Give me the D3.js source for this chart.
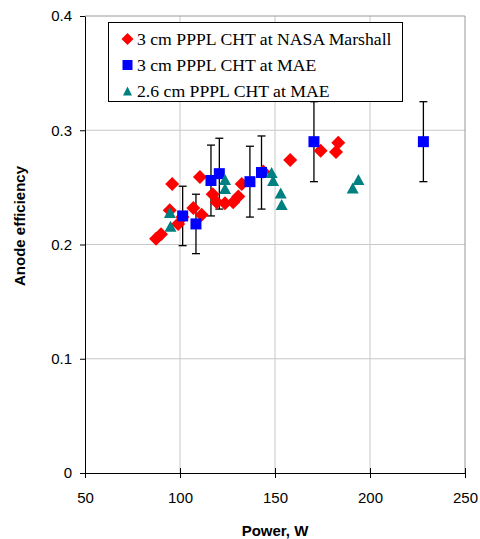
<!DOCTYPE html>
<html>
<head>
<meta charset="utf-8">
<script src="https://cdn.jsdelivr.net/npm/d3@7"></script>
<style>
  body { margin: 0; background: #fff; }
  svg { display: block; }
</style>
</head>
<body>
<div id="container"></div>
<script>
// series: 3 cm PPPL CHT at NASA Marshall
var nasaPower = [87.4, 90, 94.6, 95.9, 99, 101.3, 107, 110.5, 111.4, 117.2,
                 119.3, 123.7, 128, 130.7, 132.5, 143.8, 158, 174, 182.1, 183.3];
var nasaEff = [0.205, 0.209, 0.230, 0.253, 0.218, 0.224, 0.232, 0.259, 0.226, 0.244,
               0.237, 0.236, 0.237, 0.242, 0.253, 0.264, 0.274, 0.282, 0.281, 0.289];

// series: 3 cm PPPL CHT at MAE (with error bars)
var maePower = [101.4, 108.4, 116.3, 120.7, 136.8, 142.9, 170.5, 228.1];
var maeEff = [0.225, 0.218, 0.256, 0.262, 0.255, 0.263, 0.290, 0.290];
var maeErr = [0.026, 0.026, 0.031, 0.031, 0.031, 0.032, 0.035, 0.035];

// series: 2.6 cm PPPL CHT at MAE
var smallPower = [94.7, 95, 123.7, 123.7, 148.2, 149, 153, 153.5, 190.9, 193.9];
var smallEff = [0.228, 0.216, 0.257, 0.249, 0.263, 0.256, 0.245, 0.235, 0.2495, 0.257];

var xTicks = [50, 100, 150, 200, 250];
var yTicks = [0, 0.1, 0.2, 0.3, 0.4];
var legendLabels = ["3 cm PPPL CHT at NASA Marshall", "3 cm PPPL CHT at MAE", "2.6 cm PPPL CHT at MAE"];

var width = 480, height = 539;
var margin = {left: 85, right: 15, top: 16, bottom: 66};

var svg = d3.select("#container").append("svg")
    .attr("width", width)
    .attr("height", height);

var x = d3.scaleLinear().domain([50, 250]).range([margin.left, width - margin.right]);
var y = d3.scaleLinear().domain([0, 0.4]).range([height - margin.bottom, margin.top]);

// gridlines
svg.append("g").selectAll("line.vg")
    .data(xTicks.slice(1, -1))
    .join("line")
    .attr("x1", d => x(d)).attr("x2", d => x(d))
    .attr("y1", y(0)).attr("y2", y(0.4))
    .attr("stroke", "#c8c8c8");
svg.append("g").selectAll("line.hg")
    .data(yTicks.slice(1, -1))
    .join("line")
    .attr("x1", x(50)).attr("x2", x(250))
    .attr("y1", d => y(d)).attr("y2", d => y(d))
    .attr("stroke", "#c8c8c8");

// plot area border (top / right)
svg.append("path")
    .attr("d", "M" + x(50) + "," + y(0.4) + "H" + x(250) + "V" + y(0))
    .attr("fill", "none")
    .attr("stroke", "#999");

// axes
var xAxis = svg.append("g")
    .attr("transform", "translate(0," + y(0) + ")")
    .call(d3.axisBottom(x).tickValues(xTicks).tickSize(5).tickPadding(14).tickSizeOuter(0));
xAxis.selectAll(".tick line").attr("y1", -5).attr("y2", 5);

var yAxis = svg.append("g")
    .attr("transform", "translate(" + x(50) + ",0)")
    .call(d3.axisLeft(y).tickValues(yTicks).tickSize(5).tickPadding(8).tickSizeOuter(0)
        .tickFormat(d => d === 0 ? "0" : d3.format(".1f")(d)));

[xAxis, yAxis].forEach(function(a) {
    a.select(".domain").attr("stroke", "#000");
    a.selectAll(".tick line").attr("stroke", "#000");
    a.selectAll("text")
        .attr("fill", "#000")
        .style("font-family", "Liberation Sans, Arial, sans-serif")
        .style("font-size", "15px");
});

// axis titles
svg.append("text")
    .attr("x", (x(50) + x(250)) / 2)
    .attr("y", 536)
    .attr("text-anchor", "middle")
    .style("font-family", "Liberation Sans, Arial, sans-serif")
    .style("font-size", "15px")
    .style("font-weight", "bold")
    .text("Power, W");

svg.append("text")
    .attr("transform", "translate(25,226) rotate(-90)")
    .attr("text-anchor", "middle")
    .style("font-family", "Liberation Sans, Arial, sans-serif")
    .style("font-size", "15px")
    .style("font-weight", "bold")
    .text("Anode efficiency");

// marker shapes
var diamond = "M0,-7L7,0L0,7L-7,0Z";
var square = "M-5.5,-5.5H5.5V5.5H-5.5Z";
var triangle = "M0,-5.5L6,5.5L-6,5.5Z";

// error bars for MAE series
var errG = svg.append("g");
maePower.forEach(function(p, i) {
    var lo = y(maeEff[i] - maeErr[i]), hi = y(maeEff[i] + maeErr[i]);
    errG.append("line")
        .attr("x1", x(p)).attr("x2", x(p))
        .attr("y1", lo).attr("y2", hi)
        .attr("stroke", "#000").attr("stroke-width", 1.3);
    [lo, hi].forEach(function(v) {
        errG.append("line")
            .attr("x1", x(p) - 4).attr("x2", x(p) + 4)
            .attr("y1", v).attr("y2", v)
            .attr("stroke", "#000").attr("stroke-width", 1.3);
    });
});

// points
svg.append("g").selectAll("path")
    .data(d3.zip(nasaPower, nasaEff))
    .join("path")
    .attr("d", diamond)
    .attr("transform", d => "translate(" + x(d[0]) + "," + y(d[1]) + ")")
    .attr("fill", "#ff0000");

svg.append("g").selectAll("path")
    .data(d3.zip(maePower, maeEff))
    .join("path")
    .attr("d", square)
    .attr("transform", d => "translate(" + x(d[0]) + "," + y(d[1]) + ")")
    .attr("fill", "#0000ff");

svg.append("g").selectAll("path")
    .data(d3.zip(smallPower, smallEff))
    .join("path")
    .attr("d", triangle)
    .attr("transform", d => "translate(" + x(d[0]) + "," + y(d[1]) + ")")
    .attr("fill", "#008080");

// legend
var legend = svg.append("g");
legend.append("rect")
    .attr("x", 108.5).attr("y", 22.5)
    .attr("width", 294).attr("height", 79)
    .attr("fill", "#fff")
    .attr("stroke", "#000");

var legendShapes = [
    {d: "M0,-6L6,0L0,6L-6,0Z", fill: "#ff0000"},
    {d: "M-5,-5H5V5H-5Z", fill: "#0000ff"},
    {d: "M0,-4.5L4.5,4.5L-4.5,4.5Z", fill: "#008080"}
];
legendLabels.forEach(function(lab, i) {
    var cy = 39 + i * 26;
    legend.append("path")
        .attr("d", legendShapes[i].d)
        .attr("transform", "translate(127.5," + cy + ")")
        .attr("fill", legendShapes[i].fill);
    legend.append("text")
        .attr("x", 137)
        .attr("y", cy + 6)
        .style("font-family", "Liberation Serif, Times New Roman, serif")
        .style("font-size", "17.7px")
        .text(lab);
});
</script>
</body>
</html>
